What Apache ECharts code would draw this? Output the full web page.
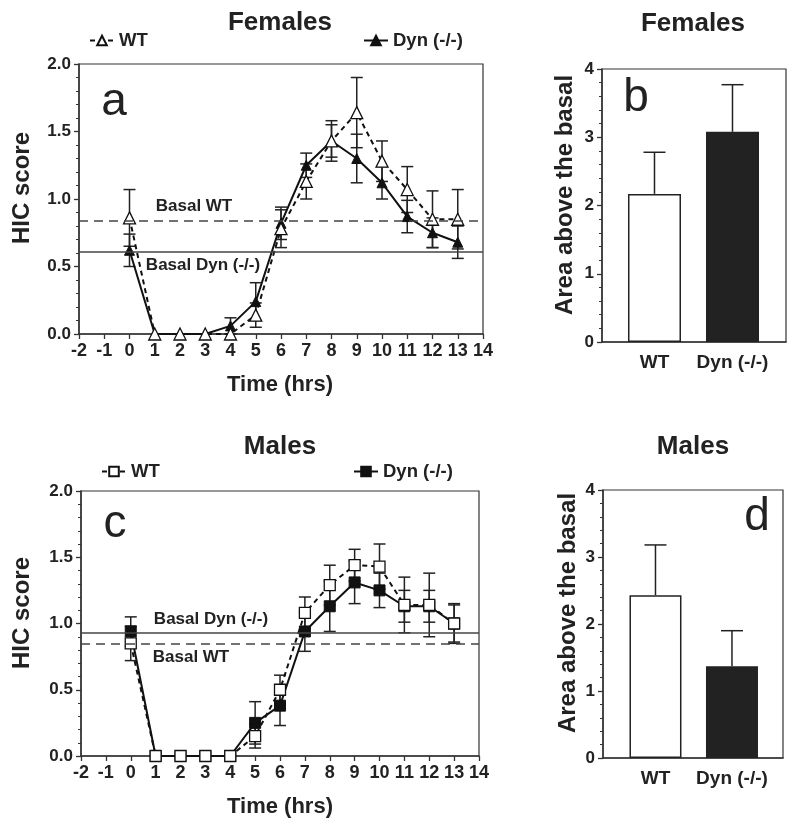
<!DOCTYPE html>
<html>
<head>
<meta charset="utf-8">
<script src="https://cdn.jsdelivr.net/npm/echarts@6/dist/echarts.min.js"></script>
<style>html,body{margin:0;padding:0;background:#fff;}#main{width:800px;height:824px;}</style>
</head>
<body>
<div id="main"></div>
<script>
// ---------- DATA ----------
const times = [0,1,2,3,4,5,6,7,8,9,10,11,12,13];

const femWT     = [0.86,0,0,0,0,0.14,0.78,1.13,1.43,1.64,1.28,1.07,0.85,0.85];
const femWTerr  = [0.21,0,0,0,0,0.09,0.14,0.13,0.12,0.26,0.15,0.17,0.21,0.22];
const femDyn    = [0.62,0,0,0,0.06,0.24,0.82,1.25,1.43,1.30,1.12,0.87,0.75,0.68];
const femDynErr = [0.12,0,0,0,0.06,0.14,0.12,0.09,0.15,0.18,0.12,0.12,0.11,0.12];
const femBasalWT = 0.84, femBasalDyn = 0.61;

const malWT     = [0.85,0,0,0,0,0.15,0.50,1.08,1.29,1.44,1.43,1.14,1.14,1.00];
const malWTerr  = [0.13,0,0,0,0,0.09,0.11,0.12,0.15,0.12,0.17,0.21,0.24,0.15];
const malDyn    = [0.94,0,0,0,0,0.25,0.38,0.94,1.13,1.31,1.25,1.13,1.13,1.00];
const malDynErr = [0.11,0,0,0,0,0.16,0.15,0.15,0.19,0.16,0.13,0.12,0.12,0.14];
const malBasalWT = 0.85, malBasalDyn = 0.93;

const groups = ['WT','Dyn (-/-)'];
const femArea    = [2.17, 3.08];
const femAreaErr = [0.61, 0.69];
const malArea    = [2.43, 1.37];
const malAreaErr = [0.75, 0.53];

// ---------- BUILD ----------
const FONT = 'Liberation Sans, Arial, sans-serif';
const INK = '#222';

function pts(vals){ return times.map((t,i)=>[t, vals[i]]); }
function errPts(xs, vals, errs){ return xs.map((t,i)=>[t, vals[i], errs[i]]).filter(d=>d[2]>0); }

function errRender(half, upOnly){
  return function(params, api){
    const x = api.value(0), y = api.value(1), e = api.value(2);
    const p0 = api.coord([x, y]);
    const pt = api.coord([x, y + e]);
    const pb = upOnly ? p0 : api.coord([x, y - e]);
    const st = {stroke: INK, lineWidth: 1.5, fill: null};
    const ch = [
      {type:'line', shape:{x1:pt[0], y1:pt[1], x2:pb[0], y2:pb[1]}, style:st},
      {type:'line', shape:{x1:pt[0]-half, y1:pt[1], x2:pt[0]+half, y2:pt[1]}, style:st}
    ];
    if(!upOnly) ch.push({type:'line', shape:{x1:pb[0]-half, y1:pb[1], x2:pb[0]+half, y2:pb[1]}, style:st});
    return {type:'group', children: ch};
  };
}

function axisLineStyle(){ return {show:true, onZero:false, lineStyle:{color:'#333', width:1.5}}; }

function lineXAxis(gi){
  return {type:'value', gridIndex:gi, min:-2, max:14, interval:1,
    axisLine: axisLineStyle(),
    axisTick:{show:true, inside:false, length:5, lineStyle:{color:'#333', width:1.3}},
    axisLabel:{color:INK, fontFamily:FONT, fontWeight:'bold', fontSize:18, margin:8},
    splitLine:{show:false}};
}
function lineYAxis(gi){
  return {type:'value', gridIndex:gi, min:0, max:2, interval:0.5,
    axisLine: axisLineStyle(),
    axisTick:{show:true, length:5, lineStyle:{color:'#333', width:1.3}},
    minorTick:{show:true, splitNumber:5, length:3, lineStyle:{color:'#333', width:1}},
    axisLabel:{color:INK, fontFamily:FONT, fontWeight:'bold', fontSize:17, margin:8,
      formatter:(v)=>v.toFixed(1)},
    splitLine:{show:false}, minorSplitLine:{show:false}};
}
function barXAxis(gi, mn, mx){
  return {type:'value', gridIndex:gi, min:mn, max:mx,
    axisLine: axisLineStyle(),
    axisTick:{show:false},
    axisLabel:{color:INK, fontFamily:FONT, fontWeight:'bold', fontSize:19, margin:11,
      customValues:[0,1], formatter:(v)=>groups[Math.round(v)]},
    splitLine:{show:false}};
}
function barYAxis(gi){
  return {type:'value', gridIndex:gi, min:0, max:4, interval:1,
    axisLine: axisLineStyle(),
    axisTick:{show:true, length:5, lineStyle:{color:'#333', width:1.3}},
    minorTick:{show:true, splitNumber:5, length:3, lineStyle:{color:'#333', width:1}},
    axisLabel:{color:INK, fontFamily:FONT, fontWeight:'bold', fontSize:17, margin:8},
    splitLine:{show:false}, minorSplitLine:{show:false}};
}

function basalMark(dashedVal, solidVal){
  return {silent:true, symbol:'none', animation:false, label:{show:false},
    data:[
      {yAxis:dashedVal, lineStyle:{type:[9,6], color:'#444', width:1.5}},
      {yAxis:solidVal, lineStyle:{type:'solid', color:'#444', width:1.5}}
    ]};
}

function panelSeries(idx, wtName, dynName, wt, wtE, dyn, dynE, sym, wtSize, dynSize, basalWT, basalDyn){
  return [
    {type:'custom', name:dynName+'_err', xAxisIndex:idx, yAxisIndex:idx, z:2,
      renderItem: errRender(6, false), data: errPts(times, dyn, dynE), encode:{x:0, y:1}},
    {type:'custom', name:wtName+'_err', xAxisIndex:idx, yAxisIndex:idx, z:2,
      renderItem: errRender(6, false), data: errPts(times, wt, wtE), encode:{x:0, y:1}},
    {type:'line', name:dynName, xAxisIndex:idx, yAxisIndex:idx, z:3,
      data: pts(dyn), symbol:sym, symbolSize:dynSize, showAllSymbol:true,
      lineStyle:{color:'#111', width:2},
      itemStyle:{color:'#111', borderColor:'#111', borderWidth:1},
      markLine: basalMark(basalWT, basalDyn)},
    {type:'line', name:wtName, xAxisIndex:idx, yAxisIndex:idx, z:4,
      data: pts(wt), symbol:sym, symbolSize:wtSize, showAllSymbol:true,
      lineStyle:{color:'#111', width:2, type:[5,4]},
      itemStyle:{color:'#fff', borderColor:'#111', borderWidth:1.3}}
  ];
}

function barSeries(idx, vals, errs, bw){
  return [
    {type:'bar', xAxisIndex:idx, yAxisIndex:idx, barWidth:bw, z:2,
      data: vals.map((v,i)=>({value:[i, v], itemStyle:{
        color: i===0 ? '#fff' : '#222', borderColor:'#222', borderWidth:1.5}}))},
    {type:'custom', xAxisIndex:idx, yAxisIndex:idx, z:3,
      renderItem: errRender(11, true),
      data: vals.map((v,i)=>[i, v, errs[i]]), encode:{x:0, y:1}}
  ];
}

const gridBox = {show:true, borderColor:'#333', borderWidth:1.2, backgroundColor:'transparent'};

function txt(x, y, s, size, weight, rot){
  return {type:'text', x:x, y:y, rotation: rot||0, silent:true,
    style:{text:s, fill:INK, font:(weight||'bold')+' '+size+'px '+FONT,
      textAlign:'center', textVerticalAlign:'middle'}};
}

const legendBase = {orient:'horizontal', itemWidth:24, itemHeight:12, itemGap:4,
  textStyle:{color:INK, fontFamily:FONT, fontWeight:'bold', fontSize:18.5},
  selectedMode:false};

const option = {
  animation:false,
  backgroundColor:'#fff',
  grid:[
    Object.assign({left:79, top:64, width:404, height:270}, gridBox),
    Object.assign({left:602, top:69, width:184, height:273}, gridBox),
    Object.assign({left:81, top:491, width:398, height:265}, gridBox),
    Object.assign({left:603, top:490, width:180, height:268}, gridBox)
  ],
  xAxis:[lineXAxis(0), barXAxis(1, -0.673, 1.686), lineXAxis(2), barXAxis(3, -0.686, 1.667)],
  yAxis:[lineYAxis(0), barYAxis(1), lineYAxis(2), barYAxis(3)],
  legend:[
    Object.assign({data:['WT'], left:84, top:26}, legendBase),
    Object.assign({data:['Dyn (-/-)'], left:358, top:26}, legendBase),
    Object.assign({data:['WT '], left:96, top:457}, legendBase),
    Object.assign({data:['Dyn (-/-) '], left:348, top:457}, legendBase)
  ],
  series: [].concat(
    panelSeries(0, 'WT', 'Dyn (-/-)', femWT, femWTerr, femDyn, femDynErr, 'triangle', 12, 10, femBasalWT, femBasalDyn),
    barSeries(1, femArea, femAreaErr, 53),
    panelSeries(2, 'WT ', 'Dyn (-/-) ', malWT, malWTerr, malDyn, malDynErr, 'rect', 11, 11, malBasalWT, malBasalDyn),
    barSeries(3, malArea, malAreaErr, 52)
  ),
  graphic:[
    txt(280, 23, 'Females', 26),
    txt(693, 24, 'Females', 26),
    txt(280, 447, 'Males', 26),
    txt(693, 447, 'Males', 26),
    txt(22, 188, 'HIC score', 24, 'bold', Math.PI/2),
    txt(22, 613, 'HIC score', 24, 'bold', Math.PI/2),
    txt(565, 195, 'Area above the basal', 24, 'bold', Math.PI/2),
    txt(568, 613, 'Area above the basal', 24, 'bold', Math.PI/2),
    txt(280, 385, 'Time (hrs)', 22),
    txt(280, 807, 'Time (hrs)', 22),
    txt(114, 102, 'a', 46, 'normal'),
    txt(636, 98, 'b', 46, 'normal'),
    txt(115, 524, 'c', 46, 'normal'),
    txt(757, 517, 'd', 46, 'normal'),
    txt(194, 206, 'Basal WT', 17),
    txt(203, 265, 'Basal Dyn (-/-)', 17),
    txt(211, 619, 'Basal Dyn (-/-)', 17),
    txt(191, 657, 'Basal WT', 17)
  ]
};

const chart = echarts.init(document.getElementById('main'), null, {renderer:'canvas'});
chart.setOption(option);
</script>
</body>
</html>
